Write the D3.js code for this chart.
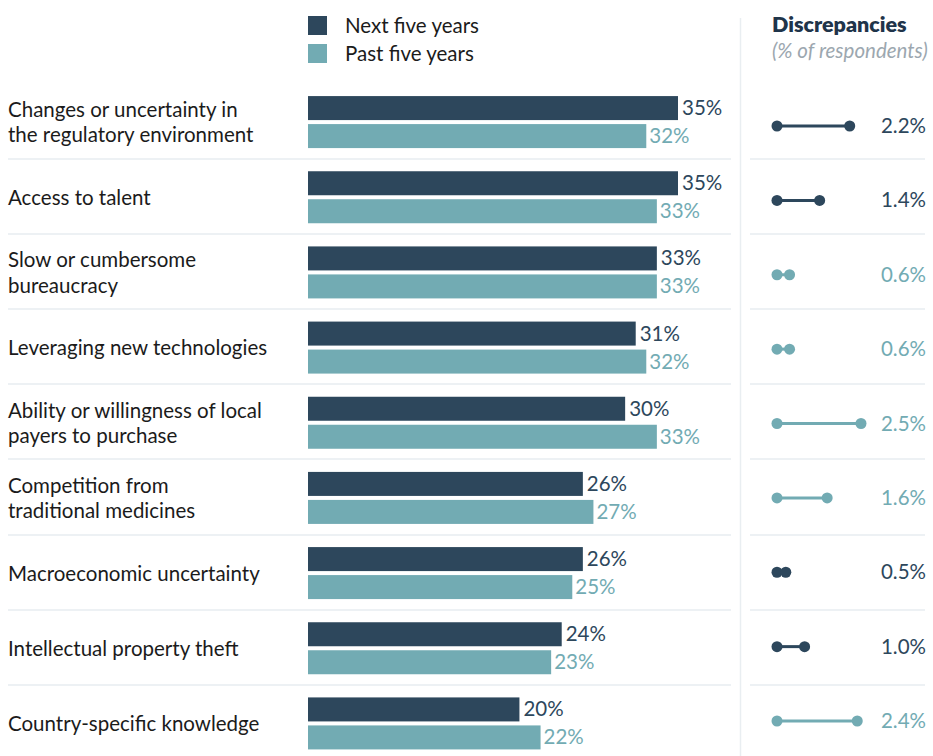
<!DOCTYPE html>
<html><head><meta charset="utf-8">
<script src="https://cdn.jsdelivr.net/npm/d3@7"></script>
<style>
html,body{margin:0;padding:0;background:#fff;}
svg{display:block;font-family:Lato,"Open Sans",sans-serif;}
</style></head>
<body><svg id="chart" width="933" height="756"></svg>
<script>
const categories = [
  "Changes or uncertainty in\nthe regulatory environment",
  "Access to talent",
  "Slow or cumbersome\nbureaucracy",
  "Leveraging new technologies",
  "Ability or willingness of local\npayers to purchase",
  "Competition from\ntraditional medicines",
  "Macroeconomic uncertainty",
  "Intellectual property theft",
  "Country-specific knowledge"
];
const nextFive = [35, 35, 33, 31, 30, 26, 26, 24, 20];
const pastFive = [32, 33, 33, 32, 33, 27, 25, 23, 22];
const discrepancy = [2.2, 1.4, 0.6, 0.6, 2.5, 1.6, 0.5, 1.0, 2.4];
const discrepancyLead = ["next","next","past","past","past","past","next","next","past"];
const seriesNames = ["Next five years", "Past five years"];

const DARK = "#2d475c", TEAL = "#72abb3", TEXT = "#1b1b1b", GRID = "#edf1f4";
const colorOf = {next: DARK, past: TEAL};
const FS = 20.5;

const svg = d3.select("#chart");
const x = d3.scaleLinear().domain([0, 35]).range([308, 678]);
const y = d3.scaleBand().domain(categories).range([84.5, 761]);
const yd = d3.scalePoint().domain(categories).range([126, 721]);
const xd = d3.scaleLinear().domain([0, 2.5]).range([767, 861]);
const dotStart = 777;

// divider
svg.append("line").attr("x1", 740.5).attr("x2", 740.5).attr("y1", 18).attr("y2", 756)
  .attr("stroke", "#e9eef1").attr("stroke-width", 1.5);

// separators
categories.slice(0, -1).forEach(c => {
  const yy = Math.round(y(c) + y.bandwidth()) - 1;
  svg.append("line").attr("x1", 8).attr("x2", 731).attr("y1", yy).attr("y2", yy)
    .attr("stroke", GRID).attr("stroke-width", 2);
  svg.append("line").attr("x1", 750).attr("x2", 925).attr("y1", yy).attr("y2", yy)
    .attr("stroke", GRID).attr("stroke-width", 2);
});

// legend
const legend = svg.append("g");
seriesNames.forEach((n, i) => {
  legend.append("rect").attr("x", 308).attr("y", 16 + i * 28).attr("width", 19).attr("height", 19)
    .attr("fill", i === 0 ? DARK : TEAL);
  legend.append("text").attr("x", 345).attr("y", 33 + i * 28).attr("font-size", FS)
    .attr("fill", TEXT).text(n);
});

// discrepancy title
svg.append("text").attr("x", 772).attr("y", 32).attr("font-size", 21.5).attr("font-weight", 800)
  .attr("fill", "#1f344a").text("Discrepancies");
svg.append("text").attr("x", 772).attr("y", 58).attr("font-size", FS).attr("font-style", "italic")
  .attr("fill", "#9ca7af").text("(% of respondents)");

categories.forEach((c, i) => {
  const cy = y(c) + y.bandwidth() / 2;
  // label
  const lines = c.split("\n");
  const lh = 25.5;
  const t = svg.append("text").attr("x", 8).attr("font-size", FS).attr("fill", TEXT);
  lines.forEach((l, k) => {
    t.append("tspan").attr("x", 8)
      .attr("y", cy + 7.5 + (k - (lines.length - 1) / 2) * lh).text(l);
  });
  // bars
  svg.append("rect").attr("x", x(0)).attr("y", cy - 26).attr("width", x(nextFive[i]) - x(0))
    .attr("height", 24).attr("fill", DARK);
  svg.append("rect").attr("x", x(0)).attr("y", cy + 2).attr("width", x(pastFive[i]) - x(0))
    .attr("height", 24).attr("fill", TEAL);
  svg.append("text").attr("x", x(nextFive[i]) + 4).attr("y", cy - 7).attr("font-size", FS)
    .attr("fill", DARK).text(nextFive[i] + "%");
  svg.append("text").attr("x", x(pastFive[i]) + 3).attr("y", cy + 21).attr("font-size", FS)
    .attr("fill", TEAL).text(pastFive[i] + "%");
  // dumbbell
  const dy = yd(c);
  const col = colorOf[discrepancyLead[i]];
  svg.append("line").attr("x1", dotStart).attr("x2", xd(discrepancy[i])).attr("y1", dy).attr("y2", dy)
    .attr("stroke", col).attr("stroke-width", 3);
  svg.append("circle").attr("cx", dotStart).attr("cy", dy).attr("r", 5.5).attr("fill", col);
  svg.append("circle").attr("cx", xd(discrepancy[i])).attr("cy", dy).attr("r", 5.5).attr("fill", col);
  svg.append("text").attr("x", 926).attr("y", dy + 7).attr("text-anchor", "end").attr("font-size", FS)
    .attr("fill", col).text(discrepancy[i].toFixed(1) + "%");
});
</script></body></html>
